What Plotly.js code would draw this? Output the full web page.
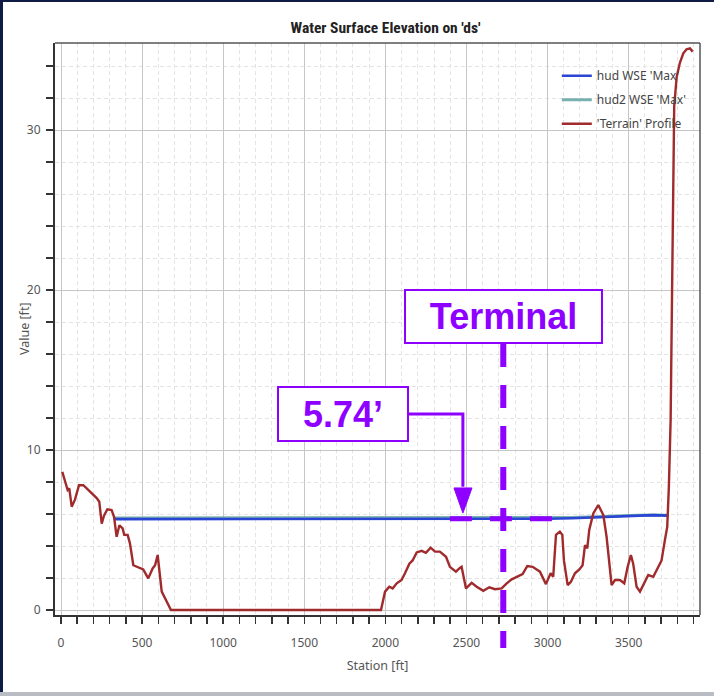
<!DOCTYPE html>
<html>
<head>
<meta charset="utf-8">
<script src="https://cdn.plot.ly/plotly-3.0.1.min.js"></script>
<style>
  html, body { margin:0; padding:0; background:#ffffff; }
  #wrap { position:relative; width:714px; height:696px; overflow:hidden; }
  #chart { position:absolute; left:0; top:0; width:714px; height:696px; }
  .edge { position:absolute; }
</style>
</head>
<body>
<div id="wrap">
  <div id="chart"></div>
  <div class="edge" style="left:0;top:0;width:3px;height:696px;background:#0d1b45;"></div>
  <div class="edge" style="left:0;top:0;width:714px;height:2px;background:#0d1b45;"></div>
  <div class="edge" style="left:0;top:692px;width:714px;height:4px;background:#b9bcc2;"></div>
</div>
<script>
// ---------- data ----------
const wseStation = [330, 1000, 2000, 2500, 3000, 3150, 3300, 3450, 3550, 3650, 3745];
const hudWSE     = [5.68, 5.68, 5.69, 5.70, 5.71, 5.74, 5.80, 5.88, 5.92, 5.93, 5.90];
const hud2WSE    = [5.75, 5.75, 5.75, 5.76, 5.77, 5.79, 5.83, 5.90, 5.93, 5.94, 5.92];

const terrainStation = [8,25,41,51,66,86,111,138,168,189,220,236,251,265,286,312,327,343,360,380,390,411,425,446,467,487,507,538,565,580,596,621,651,678,
  1973,1998,2024,2045,2070,2100,2121,2148,2168,2193,2224,2250,2279,2306,2336,2374,2398,2419,2435,2456,2470,2497,2532,2563,2604,2641,2676,2717,2748,2779,2809,2846,2875,2908,2953,2990,3019,3035,3052,3076,3091,3101,3124,3144,3169,3196,3216,3231,3245,3257,3282,3313,3344,3364,3395,3416,3446,3473,3494,3514,3528,3549,3570,3590,3621,3652,3683,3703,3724,3738,3748,3759,3769,3781,3796,3816,3837,3857,3878,3895];
const terrainElev = [8.64,8.0,7.5,7.6,6.46,6.9,7.8,7.8,7.5,7.3,7.0,6.77,5.4,5.9,6.3,6.25,5.83,4.58,5.3,5.1,4.7,4.7,4.17,2.8,2.7,2.6,2.54,1.98,2.6,2.8,3.44,1.15,0.52,0,
  0,1.15,1.46,1.35,1.67,1.88,2.3,2.9,3.1,3.6,3.7,3.58,3.9,3.65,3.65,3.33,2.7,2.5,2.4,2.6,2.7,1.35,1.7,1.46,1.2,1.42,1.3,1.35,1.67,1.92,2.08,2.25,2.75,2.7,2.4,1.62,2.3,2.08,4.7,4.9,4.7,3.1,1.56,1.77,2.3,2.54,2.8,4.06,3.85,5.0,6.04,6.56,5.94,4.58,1.56,1.88,1.88,1.67,2.7,3.44,2.9,1.46,1.15,1.56,2.19,2.08,2.7,3.1,4.4,5.2,7.7,11.9,21.0,31.5,33.3,34.2,34.8,35.05,35.1,34.9];

const seriesNames = ["hud WSE 'Max'", "hud2 WSE 'Max'", "'Terrain' Profile"];
const xTickVals = [0, 500, 1000, 1500, 2000, 2500, 3000, 3500];
const yTickVals = [0, 10, 20, 30];
const chartTitle = "Water Surface Elevation on 'ds'";
const xTitle = "Station [ft]";
const yTitle = "Value [ft]";
const labelTerminal = "Terminal";
const labelDepth = "5.74\u2019";

// ---------- annotation geometry (not data) ----------
const PURPLE = '#8e00ff';
const termX = 2727, termBoxY = 18.34;
const depthBoxX = 1739, depthBoxY = 12.25;

const traces = [
  { x: wseStation, y: hud2WSE, name: seriesNames[1], mode: 'lines',
    line: { color: '#78b0b0', width: 3 }, legendrank: 2, legendgroup: 'b' },
  { x: wseStation, y: hudWSE, name: seriesNames[0], mode: 'lines',
    line: { color: '#2a44d4', width: 2.6 }, legendrank: 1, legendgroup: 'a' },
  { x: terrainStation, y: terrainElev, name: seriesNames[2], mode: 'lines',
    line: { color: '#a02a2c', width: 2.4 }, legendrank: 3, legendgroup: 'c' }
];

const tickFont = { family: 'Noto Sans, Open Sans, sans-serif', size: 12, color: '#555555' };

const layout = {
  width: 714, height: 696,
  margin: { l: 55, r: 14, t: 43, b: 81 },
  paper_bgcolor: '#ffffff', plot_bgcolor: '#ffffff',
  title: { text: '<b>' + chartTitle + '</b>', x: 0.54, xanchor: 'center', y: 0.96, yanchor: 'middle',
           font: { family: 'Liberation Sans Narrow, Roboto Condensed, Roboto, sans-serif', size: 15.5, color: '#222222' } },
  showlegend: true,
  legend: { x: 0.778, xanchor: 'left', y: 0.968, yanchor: 'top', bgcolor: 'rgba(0,0,0,0)',
            font: { family: 'Noto Sans, Open Sans, sans-serif', size: 12, color: '#444444' },
            traceorder: 'grouped', tracegroupgap: 5 },
  xaxis: {
    range: [-37, 3940], tickvals: xTickVals, ticks: 'outside', ticklen: 7, tickwidth: 1.5, tickcolor: '#333',
    ticklabelstandoff: 9,
    showline: true, linecolor: '#333333', linewidth: 2, mirror: false,
    showgrid: true, gridcolor: '#c6c6c6', gridwidth: 1, zeroline: false,
    minor: { dtick: 100, tick0: 0, ticks: 'outside', ticklen: 7, tickwidth: 1.5, tickcolor: '#333',
             showgrid: true, gridcolor: '#e4e4e4', griddash: '4px,3px', gridwidth: 1 },
    tickfont: tickFont,
    title: { text: xTitle, font: { family: 'Noto Sans, Open Sans, sans-serif', size: 12.5, color: '#555555' }, standoff: 11 }
  },
  yaxis: {
    range: [-0.31, 35.44], tickvals: yTickVals, ticks: 'outside', ticklen: 7, tickwidth: 1.5, tickcolor: '#333',
    ticklabelstandoff: 3,
    showline: true, linecolor: '#333333', linewidth: 2, mirror: false,
    showgrid: true, gridcolor: '#c6c6c6', gridwidth: 1, zeroline: false,
    minor: { dtick: 2, tick0: 0, ticks: 'outside', ticklen: 7, tickwidth: 1.5, tickcolor: '#333',
             showgrid: true, gridcolor: '#e4e4e4', griddash: '4px,3px', gridwidth: 1 },
    tickfont: tickFont
  },
  shapes: [
    // top and right frame
    { type: 'line', xref: 'paper', yref: 'paper', x0: 0, x1: 1, y0: 1, y1: 1, line: { color: '#555555', width: 1.5 } },
    { type: 'line', xref: 'paper', yref: 'paper', x0: 1, x1: 1, y0: 0, y1: 1, line: { color: '#555555', width: 1.5 } },
    // vertical terminal dashed line
    { type: 'line', xref: 'x', yref: 'paper', x0: termX, x1: termX, y0: 0.4738, y1: -0.0577,
      line: { color: PURPLE, width: 6, dash: '23px,18px' } },
    // horizontal dashed line at WSE
    { type: 'line', xref: 'x', yref: 'y', x0: 2398, x1: 3039, y0: 5.7, y1: 5.7,
      line: { color: PURPLE, width: 5, dash: '22px,18px' } },
    // connector from 5.74 box
    { type: 'path', xref: 'x', yref: 'y', path: 'M 2145,12.25 L 2478,12.25 L 2478,7.7',
      line: { color: PURPLE, width: 3 } },
    // arrow head
    { type: 'path', xref: 'x', yref: 'y', path: 'M 2423,7.63 L 2534,7.63 L 2478,6.06 Z',
      fillcolor: PURPLE, line: { color: PURPLE, width: 1 } }
  ],
  annotations: [
    { xref: 'paper', yref: 'paper', x: -0.048, y: 0.5, xanchor: 'center', yanchor: 'middle', textangle: -90,
      text: yTitle, showarrow: false,
      font: { family: 'Noto Sans, Open Sans, sans-serif', size: 12.5, color: '#555555' } },
    { xref: 'x', yref: 'y', x: termX, y: termBoxY, text: '<b>' + labelTerminal + '</b>', showarrow: false,
      font: { family: 'Liberation Sans, Arial, sans-serif', size: 36, color: PURPLE },
      bgcolor: '#ffffff', bordercolor: PURPLE, borderwidth: 2, borderpad: 0, width: 195, height: 51 },
    { xref: 'x', yref: 'y', x: depthBoxX, y: depthBoxY, text: '<b>' + labelDepth + '</b>', showarrow: false,
      font: { family: 'Liberation Sans, Arial, sans-serif', size: 36, color: PURPLE },
      bgcolor: '#ffffff', bordercolor: PURPLE, borderwidth: 2, borderpad: 0, width: 128, height: 52 }
  ]
};

Plotly.newPlot('chart', traces, layout, { displayModeBar: false, staticPlot: true });
</script>
</body>
</html>
